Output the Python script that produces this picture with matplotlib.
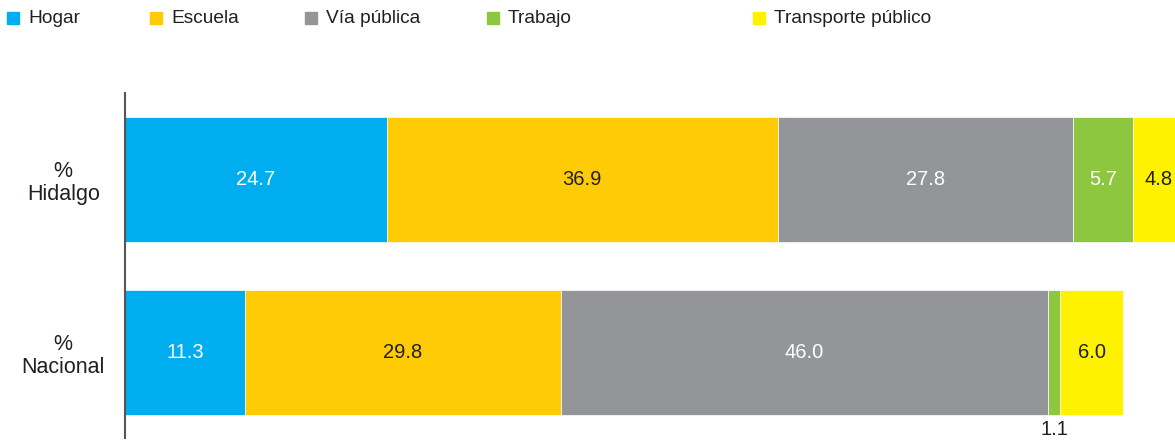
import numpy as np
import matplotlib.pyplot as plt
from matplotlib.patches import Rectangle

plt.rcParams['font.family'] = ['Liberation Sans', 'DejaVu Sans']

# Data: share of cases by place of occurrence
regions = ['%\nNacional', '%\nHidalgo']
places = ['Hogar', 'Escuela', 'Vía pública', 'Trabajo', 'Transporte público']
nacional = [11.3, 29.8, 46.0, 1.1, 6.0]
hidalgo = [24.7, 36.9, 27.8, 5.7, 4.8]

colors = ['#00AEEF', '#FFCB05', '#939598', '#8DC63F', '#FFF200']
text_colors = ['white', '#231F20', 'white', 'white', '#231F20']
dark = '#231F20'

values = np.array([nacional, hidalgo])

fig = plt.figure(figsize=(11.75, 4.41), dpi=100)
ax = fig.add_axes([125 / 1175, 3 / 441, 1050 / 1175, 345 / 441])

ypos = np.arange(len(regions))
left = np.zeros(len(regions))
for j, place in enumerate(places):
    bars = ax.barh(ypos, values[:, j], left=left, height=0.7225,
                   color=colors[j], edgecolor='white', linewidth=0.5)
    for i, b in enumerate(bars):
        v = values[i, j]
        cx = left[i] + v / 2
        if v < 2:
            # too thin: put the label under the bar
            ax.text(cx, ypos[i] - 0.7225 / 2 - 0.03, f'{v:.1f}', ha='center', va='top',
                    fontsize=14.5, color=dark, clip_on=False)
        else:
            ax.text(cx, ypos[i], f'{v:.1f}', ha='center', va='center',
                    fontsize=14.5, color=text_colors[j])
    left += values[:, j]

ax.set_xlim(0, 99.06)
ax.set_ylim(-0.494, 1.5)
ax.set_yticks(ypos)
ax.set_yticklabels(regions, fontsize=15.5, color=dark, ha='center', linespacing=1.1)
ax.tick_params(axis='y', length=0, pad=44.5)
ax.set_xticks([])
for s in ['top', 'right', 'bottom']:
    ax.spines[s].set_visible(False)
ax.spines['left'].set_color('#555555')
ax.spines['left'].set_linewidth(1.5)

# Legend across the top
legend_x = [7, 150, 305, 487, 753]
for x, place, c in zip(legend_x, places, colors):
    fig.patches.append(Rectangle((x / 1175, 1 - 24 / 441), 12 / 1175, 12 / 441,
                                 transform=fig.transFigure, color=c))
    fig.text((x + 21) / 1175, 1 - 18.5 / 441, place, fontsize=13.8, color=dark,
             ha='left', va='center')

fig.savefig('out.png', dpi=100)
